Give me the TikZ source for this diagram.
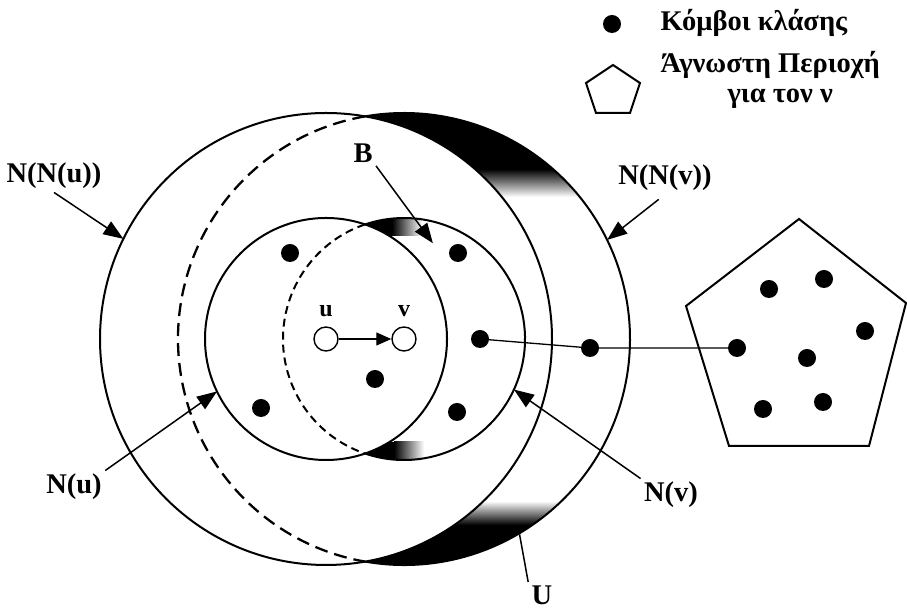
\documentclass[tikz,border=0pt]{standalone}
\usepackage{fontspec}
\setmainfont{Liberation Serif}
\usetikzlibrary{arrows.meta, calc}

\begin{document}
\begin{tikzpicture}[x=1pt, y=1pt, font=\fontsize{28.5}{32}\selectfont\bfseries,
    ring/.style={line width=2pt},
    hidden/.style={line width=2.3pt, dash pattern=on 13pt off 7pt},
    hiddensmall/.style={line width=2pt, dash pattern=on 8pt off 5pt},
    member/.style={circle, fill, inner sep=0pt, minimum size=18pt},
    endpoint/.style={circle, draw, line width=1.4pt, fill=white, inner sep=0pt, minimum size=24pt},
    pointer/.style={line width=1.5pt, -{Triangle[length=20pt, width=15pt]}}]

   \useasboundingbox (0,0) rectangle (907,609);

   \coordinate (cu) at (326,270);
   \coordinate (cv) at (404,270);

   % dark parts of U
   \begin{scope}
     \clip (cv) ++(99.9:226) arc[start angle=99.9, end angle=-99.9, radius=226]
           arc[start angle=-80.1, end angle=80.1, radius=226] -- cycle;
     \fill (0,440) rectangle (907,609);
     \shade[top color=black, bottom color=white] (0,412) rectangle (907,440);
     \fill (0,0) rectangle (907,84);
     \shade[top color=white, bottom color=black] (0,84) rectangle (907,108);
   \end{scope}

   % dark parts of B
   \begin{scope}
     \clip (cv) ++(108.8:121) arc[start angle=108.8, end angle=-108.8, radius=121]
           arc[start angle=-71.2, end angle=71.2, radius=121] -- cycle;
     \fill (0,373) rectangle (392,609);
     \shade[left color=black, right color=white] (392,373) rectangle (422,609);
     \fill (0,0) rectangle (394,167);
     \shade[left color=black, right color=white] (394,0) rectangle (424,167);
   \end{scope}

   % neighbourhoods
   \draw[ring] (cu) circle[radius=226];
   \draw[ring] (cu) circle[radius=121];
   \draw[ring] (cv) ++(-99.9:226) arc[start angle=-99.9, end angle=99.9, radius=226];
   \draw[hidden] (cv) ++(99.9:226) arc[start angle=99.9, end angle=260.1, radius=226];
   \draw[ring] (cv) ++(-108.8:121) arc[start angle=-108.8, end angle=108.8, radius=121];
   \draw[hiddensmall] (cv) ++(108.8:121) arc[start angle=108.8, end angle=251.2, radius=121];

   % unknown area
   \draw[ring] (799,390) -- (906,306) -- (869,163) -- (729,163) -- (686,303) -- cycle;

   % class nodes
   \node[member] (d1) at (290,356) {};
   \node[member] (d2) at (458,356) {};
   \node[member] (d3) at (480,270) {};
   \node[member] (d4) at (375,230) {};
   \node[member] (d5) at (261,201) {};
   \node[member] (d6) at (457,197) {};
   \node[member] (d7) at (590,261) {};
   \node[member] (p1) at (769,320) {};
   \node[member] (p2) at (824,330) {};
   \node[member] (p3) at (865,278) {};
   \node[member] (p4) at (737,261) {};
   \node[member] (p5) at (807,251) {};
   \node[member] (p6) at (763,200) {};
   \node[member] (p7) at (823,207) {};

   \draw[line width=1.3pt] (d3) -- (d7) -- (p4);

   % u and v
   \node[endpoint, label={[label distance=6pt, font=\fontsize{24}{27}\selectfont\bfseries]above:u}] (u) at (cu) {};
   \node[endpoint, label={[label distance=6pt, font=\fontsize{24}{27}\selectfont\bfseries]above:v}] (v) at (cv) {};
   \draw[line width=1.3pt, -{Triangle[length=15pt, width=13pt]}] (u) -- (v);

   % labels
   \node (nnu) at (54,433) {N(N(u))};
   \node (nu) at (74,122) {N(u)};
   \node (nnv) at (665,431) {N(N(v))};
   \node (nv) at (671,114) {N(v)};
   \node (b) at (363,456) {B};
   \node (bigu) at (542,14) {U};

   \coordinate (nnu-tip) at ($(cu)+(153.7:226)$);
   \coordinate (nu-tip) at ($(cu)+(205.7:121)$);
   \coordinate (nnv-tip) at ($(cv)+(26:226)$);
   \coordinate (nv-tip) at ($(cv)+(-24.7:121)$);
   \coordinate (b-tip) at ($(cv)+(73.2:100)$);
   \coordinate (bigu-end) at ($(cv)+(-59.4:227)$);

   \draw[pointer] (nnu.south) -- (nnu-tip);
   \draw[pointer] (nu.north east) -- (nu-tip);
   \draw[pointer, shorten <=8pt] (nnv.south) -- (nnv-tip);
   \draw[pointer] (nv.north west) -- (nv-tip);
   \draw[pointer] (b.south east) -- (b-tip);
   \draw[line width=1.5pt] (bigu.north west) -- (bigu-end);

   % key
   \node[member] (keydot) at (612,585) {};
   \node[anchor=base west] (keytxt) at (657,578) {Κόμβοι κλάσης};
   \draw[ring] (613,544) -- (640,526) -- (630,496) -- (596,496) -- (586,526) -- cycle;
   \node[anchor=base west] (keyarea) at (657,536) {Άγνωστη Περιοχή};
   \node[anchor=base] (keyv) at ([xshift=10pt, yshift=-30pt]keyarea.base) {για τον ν};

\end{tikzpicture}
\end{document}
